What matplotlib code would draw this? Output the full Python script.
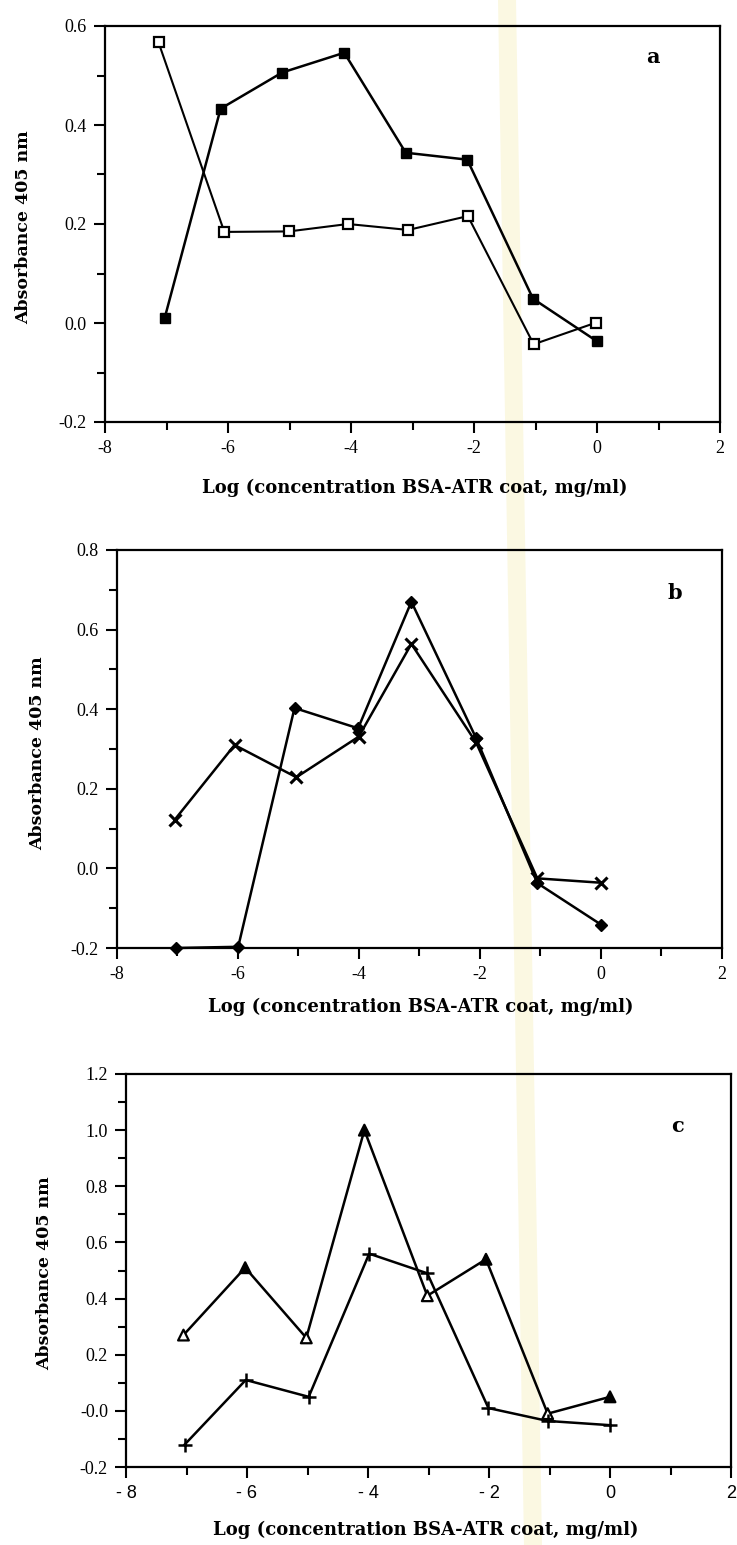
import matplotlib
matplotlib.use("Agg")
import matplotlib.pyplot as plt
from matplotlib.ticker import MultipleLocator, FixedLocator
from matplotlib.patches import Polygon

# ---------------- data ----------------
# panel a
xa_open = [-7.13, -6.06, -5.01, -4.05, -3.07, -2.10, -1.03, -0.01]
ya_open = [0.567, 0.184, 0.185, 0.200, 0.188, 0.216, -0.043, 0.001]
xa_fill = [-7.03, -6.12, -5.12, -4.11, -3.11, -2.11, -1.04, 0.0]
ya_fill = [0.010, 0.433, 0.506, 0.546, 0.344, 0.330, 0.049, -0.037]
# panel b
xb_dia = [-7.02, -5.99, -5.06, -4.01, -3.13, -2.06, -1.05, 0.0]
yb_dia = [-0.200, -0.197, 0.403, 0.352, 0.670, 0.327, -0.037, -0.141]
xb_x = [-7.04, -6.05, -5.03, -4.00, -3.13, -2.06, -1.05, 0.0]
yb_x = [0.122, 0.310, 0.229, 0.331, 0.564, 0.316, -0.025, -0.036]
# panel c
xc_tri = [-7.05, -6.03, -5.02, -4.06, -3.02, -2.05, -1.03, 0.0]
yc_tri = [0.27, 0.51, 0.26, 1.00, 0.41, 0.54, -0.01, 0.05]
tri_filled = [False, True, False, True, False, True, False, True]
xc_plus = [-7.03, -6.02, -4.98, -3.98, -3.02, -2.01, -1.03, 0.0]
yc_plus = [-0.12, 0.11, 0.05, 0.56, 0.49, 0.01, -0.036, -0.051]

xticks = [-8, -6, -4, -2, 0, 2]
xtick_labels_ab = ["-8", "-6", "-4", "-2", "0", "2"]
xtick_labels_c = ["- 8", "- 6", "- 4", "- 2", "0", "2"]
yticks_a = [-0.2, 0.0, 0.2, 0.4, 0.6]
ytick_labels_a = ["-0.2", "0.0", "0.2", "0.4", "0.6"]
yticks_b = [-0.2, 0.0, 0.2, 0.4, 0.6, 0.8]
ytick_labels_b = ["-0.2", "0.0", "0.2", "0.4", "0.6", "0.8"]
yticks_c = [-0.2, 0.0, 0.2, 0.4, 0.6, 0.8, 1.0, 1.2]
ytick_labels_c = ["-0.2", "-0.0", "0.2", "0.4", "0.6", "0.8", "1.0", "1.2"]

xlabel_text = "Log (concentration BSA-ATR coat, mg/ml)"
ylabel_text = "Absorbance 405 nm"

W, H = 737, 1545
fig = plt.figure(figsize=(W / 100, H / 100), dpi=100)

# faint yellow scan stripe (behind everything)
stripe = Polygon([[498 / W, 1.0], [516 / W, 1.0], [542 / W, 0.0], [524 / W, 0.0]],
                 closed=True, transform=fig.transFigure, facecolor="#f9f4cf",
                 edgecolor="none", alpha=0.6, zorder=-10)
fig.patches.append(stripe)

SERIF = ["Liberation Serif", "DejaVu Serif"]
BOLDSERIF = ["DejaVu Serif"]


def px_axes(left, right, top, bottom):
    ax = fig.add_axes([left / W, 1 - bottom / H, (right - left) / W, (bottom - top) / H])
    ax.set_zorder(1)
    return ax


def style(ax, ylim, yt, ytl, xtl, xfont):
    ax.set_facecolor("none")
    ax.set_xlim(-8, 2)
    ax.set_ylim(*ylim)
    ax.xaxis.set_major_locator(FixedLocator(xticks))
    ax.set_xticklabels(xtl, family=xfont, fontsize=13)
    ax.xaxis.set_minor_locator(MultipleLocator(1))
    ax.yaxis.set_major_locator(FixedLocator(yt))
    ax.set_yticklabels(ytl, family=SERIF, fontsize=13)
    ax.yaxis.set_minor_locator(MultipleLocator(0.1))
    ax.tick_params(which="both", direction="out", width=1.5, top=False, right=False)
    ax.tick_params(which="major", length=8, pad=5)
    ax.tick_params(which="minor", length=6)
    for s in ax.spines.values():
        s.set_linewidth(1.6)


LW = 1.8

# ---------------- panel a ----------------
axa = px_axes(105, 720, 26, 422)
style(axa, (-0.2, 0.6), yticks_a, ytick_labels_a, xtick_labels_ab, SERIF)
axa.plot(xa_open, ya_open, "-", color="black", lw=1.5, marker="s", ms=7.5,
         mfc="white", mec="black", mew=1.6, clip_on=False, zorder=3)
axa.plot(xa_fill, ya_fill, "-", color="black", lw=LW, marker="s", ms=7.5,
         mfc="black", mec="black", clip_on=False, zorder=3)
axa.text(0.891, 0.922, "a", transform=axa.transAxes, fontsize=15, fontweight="bold",
         family=BOLDSERIF, ha="center", va="center")
fig.text(24 / W, 1 - 227 / H, ylabel_text, rotation=90, ha="center", va="center",
         fontsize=12.5, fontweight="bold", family=BOLDSERIF)
fig.text(415 / W, 1 - 488 / H, xlabel_text, ha="center", va="center",
         fontsize=13, fontweight="bold", family=BOLDSERIF)

# ---------------- panel b ----------------
axb = px_axes(116.5, 722, 550, 948)
style(axb, (-0.2, 0.8), yticks_b, ytick_labels_b, xtick_labels_ab, SERIF)
axb.plot(xb_x, yb_x, "-", color="black", lw=LW, marker="x", ms=8, mew=2.2,
         mec="black", clip_on=False, zorder=3)
axb.plot(xb_dia, yb_dia, "-", color="black", lw=LW, marker="D", ms=6,
         mfc="black", mec="black", clip_on=False, zorder=3)
axb.text(0.922, 0.892, "b", transform=axb.transAxes, fontsize=15, fontweight="bold",
         family=BOLDSERIF, ha="center", va="center")
fig.text(38 / W, 1 - 753 / H, ylabel_text, rotation=90, ha="center", va="center",
         fontsize=12.5, fontweight="bold", family=BOLDSERIF)
fig.text(421 / W, 1 - 1007 / H, xlabel_text, ha="center", va="center",
         fontsize=13, fontweight="bold", family=BOLDSERIF)

# ---------------- panel c ----------------
axc = px_axes(126, 731, 1074, 1467)
style(axc, (-0.2, 1.2), yticks_c, ytick_labels_c, xtick_labels_c, ["Liberation Sans", "DejaVu Sans"])
axc.plot(xc_tri, yc_tri, "-", color="black", lw=LW, zorder=2, clip_on=False)
axc.scatter(xc_tri, yc_tri, marker="^", s=60,
            facecolors=["black" if f else "white" for f in tri_filled],
            edgecolors="black", linewidths=1.6, zorder=3, clip_on=False)
axc.plot(xc_plus, yc_plus, "-", color="black", lw=LW, marker="+", ms=10, mew=1.8,
         mec="black", clip_on=False, zorder=3)
axc.text(0.911, 0.868, "c", transform=axc.transAxes, fontsize=15, fontweight="bold",
         family=BOLDSERIF, ha="center", va="center")
fig.text(45 / W, 1 - 1273 / H, ylabel_text, rotation=90, ha="center", va="center",
         fontsize=12.5, fontweight="bold", family=BOLDSERIF)
fig.text(426 / W, 1 - 1530 / H, xlabel_text, ha="center", va="center",
         fontsize=13, fontweight="bold", family=BOLDSERIF)

fig.savefig("out.png", dpi=100, facecolor="white")
